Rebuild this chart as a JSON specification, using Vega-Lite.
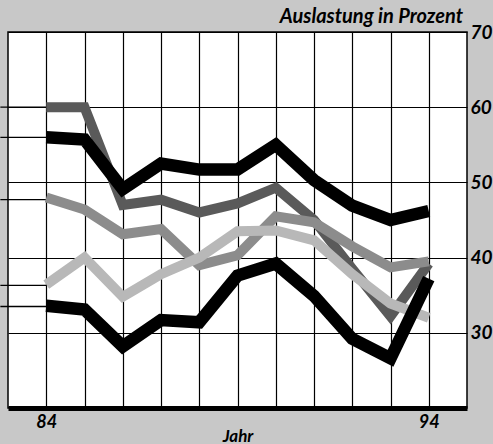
{
  "$schema": "https://vega.github.io/schema/vega-lite/v6.json",
  "width": 459,
  "height": 376,
  "autosize": {"type": "none"},
  "padding": {"left": 8, "top": 32, "right": 26, "bottom": 36},
  "background": "#c8c8c8",
  "title": {
    "text": "Auslastung in Prozent",
    "anchor": "end",
    "frame": "group",
    "orient": "top",
    "baseline": "bottom",
    "offset": 0,
    "dy": 24,
    "dx": -4,
    "font": "Lato",
    "fontSize": 20,
    "fontStyle": "italic",
    "fontWeight": "bold",
    "color": "black"
  },
  "config": {
    "view": {"fill": "white", "stroke": "black", "strokeWidth": 1.5},
    "axis": {
      "labelFont": "Lato",
      "labelFontStyle": "italic",
      "labelFontWeight": "bold",
      "labelColor": "black",
      "titleFont": "Lato",
      "titleFontStyle": "italic",
      "titleFontWeight": "bold",
      "titleColor": "black",
      "gridColor": "black",
      "gridOpacity": 1,
      "gridWidth": 1.2,
      "ticks": false,
      "labelFlush": false,
      "labelOverlap": false
    }
  },
  "datasets": {
    "series": [
      {"jahr": 84, "wert": 56.0, "reihe": "A"},
      {"jahr": 85, "wert": 55.7, "reihe": "A"},
      {"jahr": 86, "wert": 49.1, "reihe": "A"},
      {"jahr": 87, "wert": 52.5, "reihe": "A"},
      {"jahr": 88, "wert": 51.7, "reihe": "A"},
      {"jahr": 89, "wert": 51.7, "reihe": "A"},
      {"jahr": 90, "wert": 55.0, "reihe": "A"},
      {"jahr": 91, "wert": 50.3, "reihe": "A"},
      {"jahr": 92, "wert": 46.9, "reihe": "A"},
      {"jahr": 93, "wert": 45.0, "reihe": "A"},
      {"jahr": 94, "wert": 46.2, "reihe": "A"},
      {"jahr": 84, "wert": 60.0, "reihe": "B"},
      {"jahr": 85, "wert": 60.0, "reihe": "B"},
      {"jahr": 86, "wert": 47.0, "reihe": "B"},
      {"jahr": 87, "wert": 47.7, "reihe": "B"},
      {"jahr": 88, "wert": 46.0, "reihe": "B"},
      {"jahr": 89, "wert": 47.2, "reihe": "B"},
      {"jahr": 90, "wert": 49.3, "reihe": "B"},
      {"jahr": 91, "wert": 45.0, "reihe": "B"},
      {"jahr": 92, "wert": 38.5, "reihe": "B"},
      {"jahr": 93, "wert": 32.2, "reihe": "B"},
      {"jahr": 94, "wert": 39.2, "reihe": "B"},
      {"jahr": 84, "wert": 48.0, "reihe": "C"},
      {"jahr": 85, "wert": 46.4, "reihe": "C"},
      {"jahr": 86, "wert": 43.1, "reihe": "C"},
      {"jahr": 87, "wert": 43.8, "reihe": "C"},
      {"jahr": 88, "wert": 39.0, "reihe": "C"},
      {"jahr": 89, "wert": 40.3, "reihe": "C"},
      {"jahr": 90, "wert": 45.5, "reihe": "C"},
      {"jahr": 91, "wert": 44.7, "reihe": "C"},
      {"jahr": 92, "wert": 41.5, "reihe": "C"},
      {"jahr": 93, "wert": 38.7, "reihe": "C"},
      {"jahr": 94, "wert": 39.5, "reihe": "C"},
      {"jahr": 84, "wert": 36.4, "reihe": "D"},
      {"jahr": 85, "wert": 40.0, "reihe": "D"},
      {"jahr": 86, "wert": 34.8, "reihe": "D"},
      {"jahr": 87, "wert": 37.8, "reihe": "D"},
      {"jahr": 88, "wert": 40.0, "reihe": "D"},
      {"jahr": 89, "wert": 43.5, "reihe": "D"},
      {"jahr": 90, "wert": 43.6, "reihe": "D"},
      {"jahr": 91, "wert": 42.3, "reihe": "D"},
      {"jahr": 92, "wert": 37.8, "reihe": "D"},
      {"jahr": 93, "wert": 33.9, "reihe": "D"},
      {"jahr": 94, "wert": 32.0, "reihe": "D"},
      {"jahr": 84, "wert": 33.6, "reihe": "E"},
      {"jahr": 85, "wert": 33.1, "reihe": "E"},
      {"jahr": 86, "wert": 28.2, "reihe": "E"},
      {"jahr": 87, "wert": 31.7, "reihe": "E"},
      {"jahr": 88, "wert": 31.4, "reihe": "E"},
      {"jahr": 89, "wert": 37.6, "reihe": "E"},
      {"jahr": 90, "wert": 39.2, "reihe": "E"},
      {"jahr": 91, "wert": 34.9, "reihe": "E"},
      {"jahr": 92, "wert": 29.2, "reihe": "E"},
      {"jahr": 93, "wert": 26.6, "reihe": "E"},
      {"jahr": 94, "wert": 37.2, "reihe": "E"}
    ],
    "leaders": [
      {"von": 82.8, "bis": 84, "wert": 60.0},
      {"von": 82.8, "bis": 84, "wert": 56.0},
      {"von": 82.8, "bis": 84, "wert": 47.7},
      {"von": 82.8, "bis": 84, "wert": 36.3},
      {"von": 82.8, "bis": 84, "wert": 33.5}
    ]
  },
  "layer": [
    {
      "data": {"name": "leaders"},
      "mark": {"type": "rule", "color": "black", "strokeWidth": 1.3},
      "encoding": {
        "x": {"field": "von", "type": "quantitative", "scale": {"domain": [83, 95], "nice": false, "zero": false}},
        "x2": {"field": "bis"},
        "y": {"field": "wert", "type": "quantitative", "scale": {"domain": [20, 70], "nice": false, "zero": false}}
      }
    },
    {
      "data": {"name": "series"},
      "transform": [{"filter": "datum.reihe != 'A' && datum.reihe != 'E'"}],
      "mark": {"type": "line", "strokeWidth": 10, "strokeJoin": "miter", "strokeCap": "butt"},
      "encoding": {
        "x": {"field": "jahr", "type": "quantitative", "scale": {"domain": [83, 95], "nice": false, "zero": false}},
        "y": {"field": "wert", "type": "quantitative", "scale": {"domain": [20, 70], "nice": false, "zero": false}},
        "detail": {"field": "reihe"},
        "color": {"field": "reihe", "type": "nominal", "legend": null,
          "scale": {"domain": ["A", "B", "C", "D", "E"], "range": ["#000000", "#5a5a5a", "#8c8c8c", "#b8b8b8", "#000000"]}}
      }
    },
    {
      "data": {"name": "series"},
      "transform": [{"filter": "datum.reihe == 'A' || datum.reihe == 'E'"}],
      "mark": {"type": "line", "strokeWidth": 12.5, "strokeJoin": "miter", "strokeCap": "butt"},
      "encoding": {
        "x": {
          "field": "jahr", "type": "quantitative",
          "scale": {"domain": [83, 95], "nice": false, "zero": false},
          "axis": {
            "values": [84, 85, 86, 87, 88, 89, 90, 91, 92, 93, 94],
            "labelExpr": "datum.value == 84 || datum.value == 94 ? datum.label : ''",
            "grid": true,
            "domain": true,
            "domainColor": "black",
            "domainWidth": 5,
            "labelFontSize": 18,
            "labelPadding": 5,
            "title": "Jahr",
            "titleFontSize": 17,
            "titlePadding": -3
          }
        },
        "y": {
          "field": "wert", "type": "quantitative",
          "scale": {"domain": [20, 70], "nice": false, "zero": false},
          "axis": {
            "orient": "right",
            "values": [30, 40, 50, 60, 70],
            "grid": true,
            "domain": false,
            "labelFontSize": 19,
            "labelPadding": 3,
            "labelBaseline": "middle",
            "title": null
          }
        },
        "detail": {"field": "reihe"},
        "color": {"field": "reihe", "type": "nominal", "legend": null,
          "scale": {"domain": ["A", "B", "C", "D", "E"], "range": ["#000000", "#5a5a5a", "#8c8c8c", "#b8b8b8", "#000000"]}}
      }
    }
  ]
}
